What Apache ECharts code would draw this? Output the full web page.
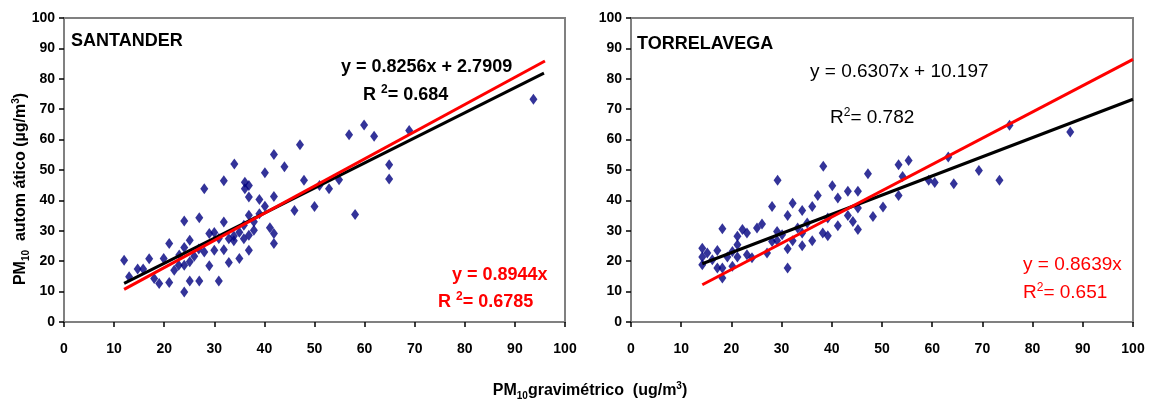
<!DOCTYPE html>
<html>
<head>
<meta charset="utf-8">
<script src="https://cdn.jsdelivr.net/npm/echarts@6/dist/echarts.min.js"></script>
<style>
html,body{margin:0;padding:0;background:#fff;}
#c{width:1156px;height:403px;}
</style>
</head>
<body>
<div id="c"></div>
<script>
// ---- data ----
var santanderX = [12.0,13.0,14.7,15.8,17.0,18.0,19.0,19.9,21.0,21.0,22.0,22.9,24.0,24.0,24.0,24.0,25.1,25.1,25.1,26.0,27.0,27.0,28.0,28.0,29.0,29.0,30.0,30.0,30.9,31.9,31.9,31.9,32.9,32.9,33.9,34.0,35.0,36.1,36.1,36.9,36.9,35.9,36.9,35.9,36.9,36.9,37.9,39.0,39.0,40.1,40.1,41.1,41.9,41.9,41.9,41.9,44.0,46.0,47.1,47.9,50.0,51.0,52.9,54.9,56.9,58.1,59.9,61.9,64.9,64.9,68.9,93.7,26.9,23.0,33.9,37.9,35.0,30.9];
var santanderY = [20.3,14.9,17.4,17.4,20.8,14.3,12.7,20.9,25.8,13.0,17.0,18.7,24.5,33.2,18.7,9.9,26.9,13.5,19.8,21.6,34.3,13.5,43.8,23.0,29.1,18.5,29.4,23.6,13.5,46.5,32.9,23.8,27.4,19.6,26.7,52.0,20.9,46.0,43.8,44.9,41.1,31.8,35.1,27.4,28.5,23.6,30.2,40.3,35.6,49.1,38.1,31.0,41.3,29.1,25.8,55.1,51.1,36.7,58.3,46.6,38.0,44.9,43.8,46.8,61.6,35.4,64.8,61.1,51.7,47.0,63.0,73.3,24.0,22.0,28.3,33.0,29.5,27.5];
var torrelavegaX = [14.2,14.2,14.2,15.2,16.2,17.2,17.2,18.2,18.2,18.2,19.2,20.2,20.2,21.2,21.2,21.2,22.2,23.1,23.1,24.1,25.1,26.1,27.1,28.1,28.1,29.1,29.2,30.1,31.2,31.2,31.2,32.2,32.2,33.2,34.1,34.1,34.1,35.1,36.1,36.1,37.2,38.2,38.3,39.2,39.2,40.1,41.2,41.2,43.2,43.2,44.2,45.2,45.2,45.2,47.2,48.2,50.2,53.3,53.3,54.1,55.3,59.3,60.5,63.2,64.3,69.3,73.4,75.4,87.5,29.1];
var torrelavegaY = [24.3,21.4,18.8,22.7,20.5,23.5,17.8,30.7,17.8,14.5,21.4,23.2,18.3,28.2,25.4,21.4,30.4,29.3,22.1,21.1,30.9,32.2,22.7,38.0,26.5,29.8,46.6,28.7,35.0,24.1,17.8,39.1,26.7,30.9,36.7,29.3,25.1,32.6,38.0,26.7,41.6,29.3,51.2,34.2,28.4,44.8,40.8,31.7,43.0,35.0,33.1,43.0,37.5,30.4,48.8,34.7,37.8,51.7,41.6,47.9,53.1,46.6,45.9,54.3,45.5,49.8,46.6,64.7,62.5,26.8];
// fits: [slope, intercept, xStart, xEnd]
var santanderFit = [0.8256, 2.7909, 12.0, 95.8];
var santanderOrigin = [0.8944, 0, 12.0, 96.0];
var torreFit = [0.6307, 10.197, 14.2, 100];
var torreOrigin = [0.8639, 0, 14.2, 100];
var axisTicks = [0, 10, 20, 30, 40, 50, 60, 70, 80, 90, 100];

function pts(xs, ys){ return xs.map(function(x,i){return [x, ys[i]];}); }
function fitLine(f){ return [[f[2], f[0]*f[2]+f[1]], [f[3], f[0]*f[3]+f[1]]]; }

var FONT = "'Liberation Sans', Arial, sans-serif";
var chart = echarts.init(document.getElementById('c'), null, {renderer:'canvas'});

function xAx(gi){
  return {gridIndex:gi, type:'value', min:axisTicks[0], max:axisTicks[axisTicks.length-1], interval:10,
    axisLine:{show:true, onZero:false, lineStyle:{color:'#808080', width:2}},
    axisTick:{show:true, length:5, lineStyle:{color:'#000', width:1.5}},
    axisLabel:{margin:20, color:'#000', fontFamily:FONT, fontWeight:'bold', fontSize:14},
    splitLine:{show:false}};
}
function yAx(gi){
  return {gridIndex:gi, type:'value', min:0, max:100, interval:10,
    axisLine:{show:true, onZero:false, lineStyle:{color:'#808080', width:2}},
    axisTick:{show:true, length:5, lineStyle:{color:'#000', width:1.5}},
    axisLabel:{margin:9, color:'#000', fontFamily:FONT, fontWeight:'bold', fontSize:14},
    splitLine:{show:false}};
}
function sc(gi, data){
  return {type:'scatter', xAxisIndex:gi, yAxisIndex:gi, data:data, symbol:'diamond', symbolSize:[8,11],
    itemStyle:{color:'#000080'}, z:2, silent:true};
}
function ln(gi, data, color){
  return {type:'line', xAxisIndex:gi, yAxisIndex:gi, data:data, symbol:'none',
    lineStyle:{color:color, width:3}, z:color==='#ff0000'?4:3, silent:true};
}

var supR = {
  a:{fontFamily:FONT, fontSize:18, fontWeight:'bold', lineHeight:22},
  s:{fontFamily:FONT, fontSize:12, fontWeight:'bold', lineHeight:14, verticalAlign:'top'}
};
function richSet(size, weight, color){
  return {
    a:{fontFamily:FONT, fontSize:size, fontWeight:weight, lineHeight:22, fill:color, color:color},
    s:{fontFamily:FONT, fontSize:12, fontWeight:weight, lineHeight:14, verticalAlign:'top', fill:color, color:color}
  };
}
function txt(x, y, text, size, weight, color){
  return {type:'text', x:x, y:y, z:10, silent:true,
    style:{text:text, rich:richSet(size, weight, color), fill:color, align:'left', verticalAlign:'middle',
      font: weight + ' ' + size + 'px ' + FONT}};
}

var titleRich = {
  b:{fontFamily:FONT, fontSize:16, fontWeight:'bold', lineHeight:20, fill:'#000'},
  s:{fontFamily:FONT, fontSize:10, fontWeight:'bold', lineHeight:10, verticalAlign:'bottom', fill:'#000'},
  p:{fontFamily:FONT, fontSize:10, fontWeight:'bold', lineHeight:10, verticalAlign:'top', fill:'#000'}
};

chart.setOption({
  animation:false,
  backgroundColor:'#fff',
  grid:[
    {left:64, top:18, width:501, height:304, show:true, borderColor:'#808080', borderWidth:2, backgroundColor:'transparent'},
    {left:631, top:18, width:502, height:304, show:true, borderColor:'#808080', borderWidth:2, backgroundColor:'transparent'}
  ],
  xAxis:[xAx(0), xAx(1)],
  yAxis:[yAx(0), yAx(1)],
  series:[
    sc(0, pts(santanderX, santanderY)),
    sc(1, pts(torrelavegaX, torrelavegaY)),
    ln(0, fitLine(santanderFit), '#000000'),
    ln(0, fitLine(santanderOrigin), '#ff0000'),
    ln(1, fitLine(torreFit), '#000000'),
    ln(1, fitLine(torreOrigin), '#ff0000')
  ],
  graphic:[
    txt(71, 41, '{a|SANTANDER}', 18, 'bold', '#000'),
    txt(637, 44, '{a|TORRELAVEGA}', 18, 'bold', '#000'),
    txt(341, 67, '{a|y = 0.8256x + 2.7909}', 18, 'bold', '#000'),
    txt(363, 95, '{a|R }{s|2}{a|= 0.684}', 18, 'bold', '#000'),
    txt(452, 275, '{a|y = 0.8944x}', 18, 'bold', '#ff0000'),
    txt(438, 302, '{a|R }{s|2}{a|= 0.6785}', 18, 'bold', '#ff0000'),
    txt(810, 72, '{a|y = 0.6307x + 10.197}', 19, 'normal', '#000'),
    txt(830, 118, '{a|R}{s|2}{a|= 0.782}', 19, 'normal', '#000'),
    txt(1023, 265, '{a|y = 0.8639x}', 19, 'normal', '#ff0000'),
    txt(1023, 293, '{a|R}{s|2}{a|= 0.651}', 19, 'normal', '#ff0000'),
    {type:'text', x:21, y:189, rotation:Math.PI/2, z:10, silent:true,
      style:{text:'{b|PM}{s|10}{b|  autom ático (µg/m}{p|3}{b|)}', rich:titleRich, align:'center', verticalAlign:'middle', fill:'#000',
        font:'bold 16px ' + FONT}},
    {type:'text', x:590, y:391, z:10, silent:true,
      style:{text:'{b|PM}{s|10}{b|gravimétrico  (ug/m}{p|3}{b|)}', rich:titleRich, align:'center', verticalAlign:'middle', fill:'#000',
        font:'bold 16px ' + FONT}}
  ]
});
</script>
</body>
</html>
